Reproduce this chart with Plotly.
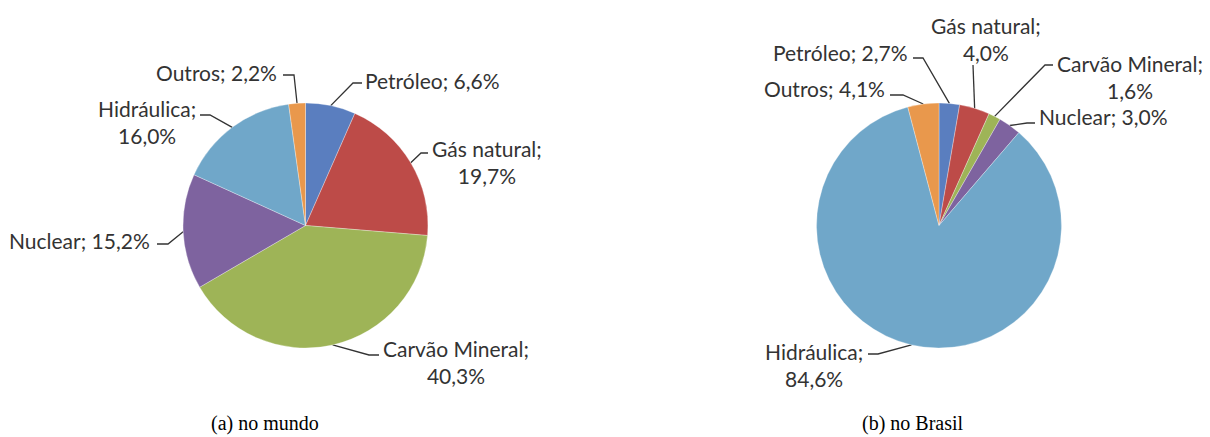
import math
import plotly.graph_objects as go

# dados
fontes = ["Petróleo", "Gás natural", "Carvão Mineral", "Nuclear", "Hidráulica", "Outros"]
mundo = [6.6, 19.7, 40.3, 15.2, 16.0, 2.2]
brasil = [2.7, 4.0, 1.6, 3.0, 84.6, 4.1]
legendas = ["(a) no mundo", "(b) no Brasil"]
cores = ["#5A7EBF", "#BD4B48", "#9EB457", "#7E639F", "#70A7C9", "#E9984C"]

W, H = 1210, 437
O = 8  # margem padrao do <body> na pagina
R = 122.5
TXT = dict(family="Lato, 'Open Sans', sans-serif", size=21, color="#333333")

# layout de cada grafico: centro da pizza e posicao dos rotulos (pixels da pagina)
# rotulo: (x texto, y texto, xanchor, quebra de linha, ponto de ligacao, cotovelo)
paineis = [
    dict(valores=mundo, cx=305.5, cy=225.5, legenda_x=265,
         rotulos=[
             (363, 80, "left", False, (362, 83), -9),
             (487, 162, "center", True, (428, 153), -7),
             (456, 362, "center", True, (379, 355), -10),
             (152, 240, "right", False, (157, 244), 11),
             (147, 122, "center", True, (200, 115), 10),
             (279, 72, "right", False, (283, 75), 11),
         ]),
    dict(valores=brasil, cx=939, cy=225.5, legenda_x=913,
         rotulos=[
             (910, 52, "right", False, (913, 58), 10),
             (986, 39, "center", True, (973, 65), 0),
             (1130, 77, "center", True, (1053, 65), -8),
             (1037, 116, "left", False, (1035, 123), -8),
             (814, 365, "center", True, (868, 354), 10),
             (887, 88, "right", False, (890, 95), 13),
         ]),
]

FW, FH = W - O, H - O

fig = go.Figure()
anots = []

for i, p in enumerate(paineis):
    cx, cy = p["cx"], p["cy"]
    fig.add_trace(go.Pie(
        labels=fontes,
        values=p["valores"],
        sort=False,
        direction="clockwise",
        rotation=0,
        textinfo="none",
        hoverinfo="label+percent",
        marker=dict(colors=cores, line=dict(color="rgba(255,255,255,0.5)", width=0.6)),
        domain=dict(x=[(cx - R - O) / FW, (cx + R - O) / FW],
                    y=[1 - (cy + R - O) / FH, 1 - (cy - R - O) / FH]),
        showlegend=False,
    ))

    total = sum(p["valores"])
    acum = 0
    for nome, v, (tx, ty, xa, quebra, (ax, ay), cot) in zip(fontes, p["valores"], p["rotulos"]):
        ang = math.radians(360 * (acum + v / 2) / total)
        acum += v
        px_, py_ = cx + R * math.sin(ang), cy - R * math.cos(ang)
        fig.add_trace(go.Scatter(
            x=[ax, ax + cot, px_], y=[ay, ay, py_],
            mode="lines", line=dict(color="#333333", width=1.3),
            hoverinfo="skip", showlegend=False,
        ))
        valor = f"{v:.1f}".replace(".", ",") + "%"
        texto = f"{nome};<br>{valor}" if quebra else f"{nome}; {valor}"
        anots.append(dict(x=tx, y=ty, xref="x", yref="y", text=texto, showarrow=False,
                          xanchor=xa, yanchor="middle", align="center", font=TXT))

    anots.append(dict(x=p["legenda_x"], y=423, xref="x", yref="y",
                      text=legendas[i], showarrow=False,
                      xanchor="center", yanchor="middle",
                      font=dict(family="'Liberation Serif', 'Times New Roman', serif", size=20, color="black")))

fig.update_layout(
    width=FW, height=FH,
    margin=dict(l=0, r=0, t=0, b=0),
    paper_bgcolor="white", plot_bgcolor="white",
    xaxis=dict(range=[O, W], visible=False, fixedrange=True),
    yaxis=dict(range=[H, O], visible=False, fixedrange=True),
    annotations=anots,
)

fig.write_html("out.html")
